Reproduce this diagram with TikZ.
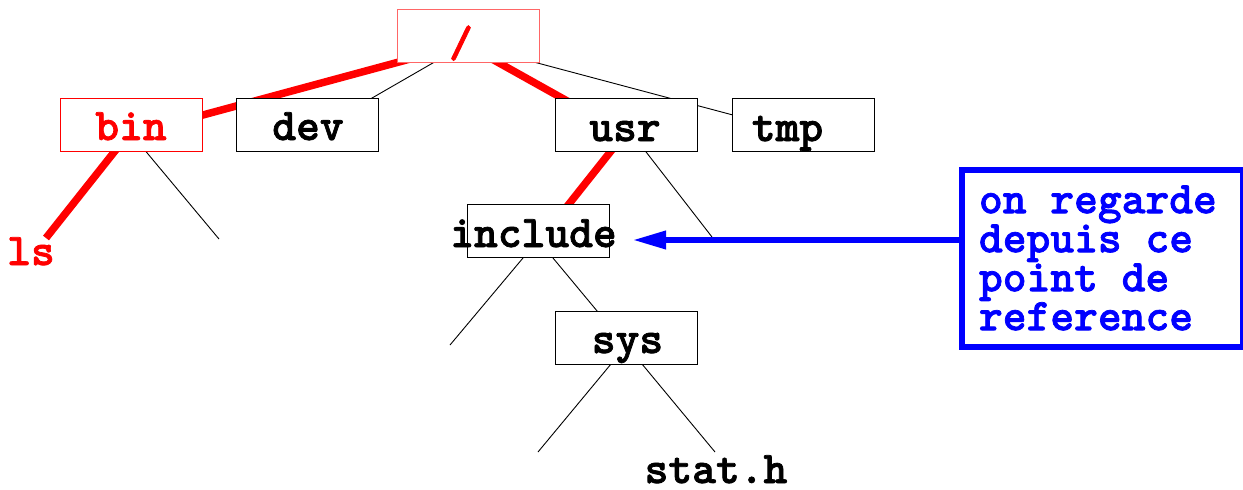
\documentclass[tikz,border=0pt]{standalone}
\usepackage{fontspec}
\newfontfamily\typefont{lmmonolt10-bold.otf}[FakeBold=1.6]
\usetikzlibrary{calc,arrows.meta}

\begin{document}
\begin{tikzpicture}[x=1pt,y=-1pt,
  dirbox/.style={draw=black,line width=0.9pt,fill=white,minimum width=142pt,
    minimum height=53pt,inner sep=0pt,outer sep=0pt},
  hotbox/.style={dirbox,draw=red},
  rootbox/.style={dirbox,draw=red!60},
  lbl/.style={anchor=base,inner sep=0pt,outer sep=0pt,
    font=\fontsize{45.3}{46}\typefont},
  hotlbl/.style={lbl,text=red},
  notelbl/.style={anchor=north west,inner sep=0pt,outer sep=0pt,align=left,
    text=blue,font=\fontsize{45.3}{39}\typefont},
  twig/.style={line width=0.9pt,black},
  trail/.style={line width=7.5pt,red},
  notebox/.style={draw=blue,line width=6.5pt,fill=white,minimum width=281pt,
    minimum height=177pt,inner sep=0pt,outer sep=0pt},
  pointer/.style={blue,line width=6.5pt,-{Triangle[length=34pt,width=17pt]}}
]
\useasboundingbox (0,0) rectangle (1243,490);
\clip (0,0) rectangle (1243,490);

% directory boxes (positions only; drawn after the branches)
\path
  (468,36)      coordinate (root)
  (131.5,124.5) coordinate (bin)
  (307.5,124.5) coordinate (dev)
  (626.5,124.5) coordinate (usr)
  (803.5,124.5) coordinate (tmp)
  (538,231)     coordinate (include)
  (626.5,337.5) coordinate (sys);

% loose ends of branches
\coordinate (binR) at (219,239);
\coordinate (usrR) at (712,237);
\coordinate (incL) at (450,345);
\coordinate (sysL) at (538,452);
\coordinate (sysR) at (715,452);
\coordinate (tip)  at (632,240);

% leaf labels
\node[hotlbl] (ls) at (31,265) {ls};
\node[lbl] (stath) at (716,483) {stat.h};

% thin branches
\draw[twig] ($(root)+(-30,24)$) -- ($(dev)+(58.5,-23)$);
\draw[twig] ($(root)+(62,25)$) -- ($(tmp)+(-63.5,-7.6)$);
\draw[twig] ($(bin)+(11.5,23.5)$) -- (binR);
\draw[twig] ($(usr)+(16.5,23.5)$) -- (usrR);
\draw[twig] ($(include)+(-12.5,24)$) -- (incL);
\draw[twig] ($(include)+(12.5,24)$) -- ($(sys)+(-26.5,-23)$);
\draw[twig] ($(sys)+(-13,23.5)$) -- (sysL);
\draw[twig] ($(sys)+(13,23.5)$) -- (sysR);

% highlighted paths
\draw[trail] ($(root)+(-58,23)$) -- ($(bin)+(58.5,-6)$);
\draw[trail] ($(bin)+(-12.8,21.8)$) -- ($(ls.base)+(15,-27)$);
\draw[trail] ($(root)+(24,23)$) -- ($(usr)+(-57.5,-22.5)$);
\draw[trail] ($(usr)+(-11.5,21.5)$) -- ($(include)+(27,-22)$);

% boxes
\node[rootbox] (rootB) at (root) {};
\node[hotbox]  (binB) at (bin) {};
\node[dirbox]  (devB) at (dev) {};
\node[dirbox]  (usrB) at (usr) {};
\node[dirbox]  (tmpB) at (tmp) {};
\node[dirbox]  (includeB) at (include) {};
\node[dirbox]  (sysB) at (sys) {};

% box labels
\node[hotlbl] (tRoot) at (461,57) {/};
\node[hotlbl] (tBin) at (131,140) {bin};
\node[lbl] (tDev) at (308,140) {dev};
\node[lbl] (tUsr) at (625,141) {usr};
\node[lbl] (tTmp) at (787.5,141) {tmp};
\node[lbl] (tInclude) at (533.5,247) {include};
\node[lbl] (tSys) at (627.5,353) {sys};

% note and its pointer
\node[notebox] (note) at (1102.5,258.5) {};
\node[notelbl] (noteText) at (979,185.5)
  {on regarde\\depuis ce\\point de\\reference};
\draw[pointer] (note.west |- tip) -- (tip);
\end{tikzpicture}
\end{document}
